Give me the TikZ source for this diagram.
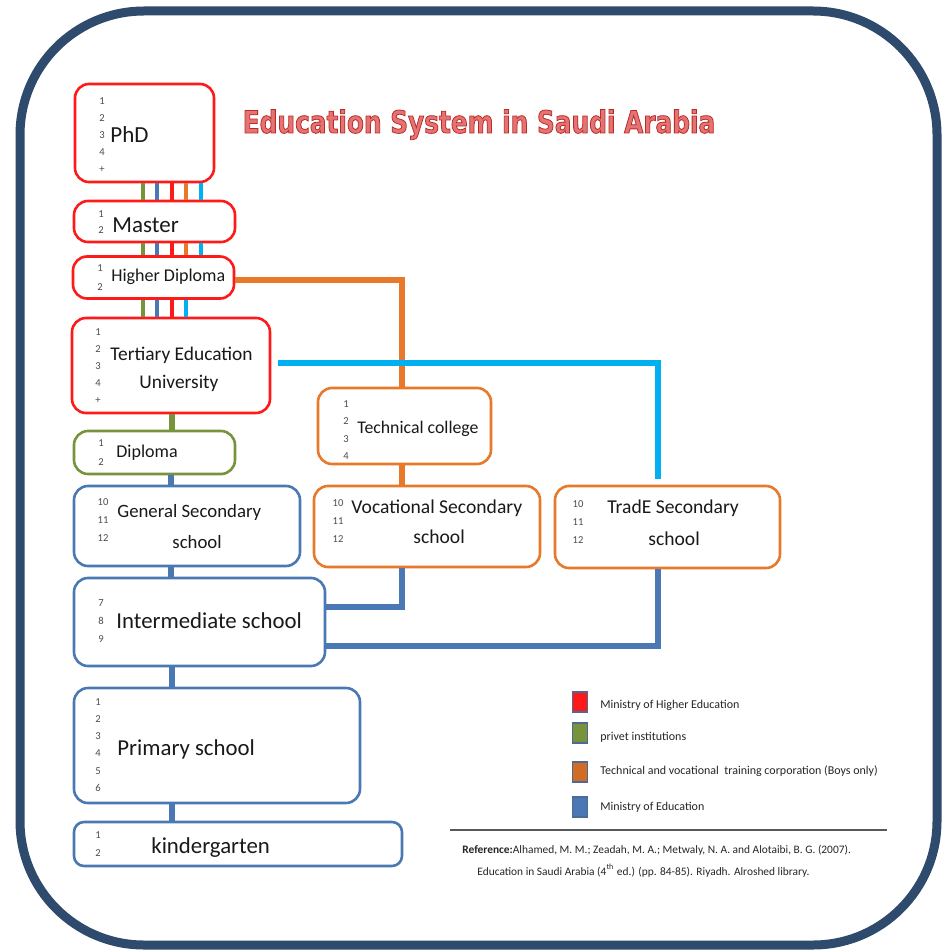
\documentclass[tikz,border=0pt]{standalone}
\usepackage{fontspec}
\setmainfont{Carlito}
\newfontfamily\headfont{DejaVu Sans}[FakeStretch=0.8, BoldFeatures={FakeBold=2.5}]
\usetikzlibrary{calc}

\definecolor{frameblue}{HTML}{2E4A6D}
\definecolor{mhe}{HTML}{FF1A1A}
\definecolor{priv}{HTML}{77933C}
\definecolor{tvtc}{HTML}{E8782A}
\definecolor{moe}{HTML}{4A78B4}
\definecolor{sky}{HTML}{00B0F0}
\definecolor{legendedge}{HTML}{4D6A94}

% heading letters: light red fill, darker red stroke
\newcommand{\headcolours}[1]{\special{pdf:bcolor [0.90 0.45 0.45] [0.72 0.17 0.15]}#1\special{pdf:ecolor}}

\tikzset{
  stage/.style={draw, line width=1.3pt, fill=white, rounded corners=7pt, inner sep=0pt},
  caption/.style={inner sep=0pt, anchor=base west, text=black!90},
  grades/.style={inner sep=0pt, align=center, text=black!70},
  bar/.style={line width=2.2pt},
  link/.style={line width=2.6pt},
  key/.style={draw=legendedge, line width=0.9pt, minimum width=7.5pt, minimum height=10pt, inner sep=0pt},
  keytext/.style={inner sep=0pt, anchor=west, font=\fontsize{6}{7}\selectfont, text=black!85},
  big/.style={font=\fontsize{11.4}{13}\selectfont},
}

\begin{document}
\begin{tikzpicture}[x=0.5pt,y=-0.5pt]
\useasboundingbox (0,0) rectangle (945,952);

% outer frame
\draw[frameblue, line width=4.5pt, rounded corners=62pt, fill=white] (20,11) rectangle (937,945);

% title
\node[inner sep=0pt, anchor=base] (title) at (479,133)
  {\headfont\bfseries\fontsize{15.5}{18}\selectfont\headcolours{Education System in Saudi Arabia}};

% stages
\node[stage, draw=mhe, minimum width=69.5pt, minimum height=49pt] (phd) at (144.5,133) {};
\node[stage, draw=mhe, minimum width=80.5pt, minimum height=20.5pt] (master) at (154.5,221.5) {};
\node[stage, draw=mhe, minimum width=80.5pt, minimum height=21pt] (hdip) at (153.5,277.5) {};
\node[stage, draw=mhe, minimum width=99pt, minimum height=47.5pt] (tert) at (171,365.5) {};
\node[stage, draw=priv, minimum width=80.5pt, minimum height=21.5pt] (dip) at (154.5,452.5) {};
\node[stage, draw=moe, minimum width=113pt, minimum height=40pt] (gen) at (187,526) {};
\node[stage, draw=moe, minimum width=125.5pt, minimum height=44pt] (inter) at (199.5,622) {};
\node[stage, draw=moe, minimum width=143pt, minimum height=57.5pt] (prim) at (217,745.5) {};
\node[stage, draw=moe, minimum width=164pt, minimum height=22pt, rounded corners=5pt] (kind) at (238,844) {};
\node[stage, draw=tvtc, minimum width=86.5pt, minimum height=38pt] (tech) at (404.5,426) {};
\node[stage, draw=tvtc, minimum width=113pt, minimum height=40.5pt] (voc) at (427,526.5) {};
\node[stage, draw=tvtc, minimum width=112.5pt, minimum height=41pt] (trade) at (667.5,527) {};

% stage names
\node[caption, font=\fontsize{11.5}{13}\selectfont] (phdT) at (110,143) {PhD};
\node[caption, font=\fontsize{11.5}{13}\selectfont] (masterT) at (112,233) {Master};
\node[caption, font=\fontsize{9}{11}\selectfont] (hdipT) at (111,281) {Higher Diploma};
\node[caption, font=\fontsize{9.7}{11}\selectfont] (tertT) at (110,360) {Tertiary Education};
\node[caption, font=\fontsize{9.7}{11}\selectfont] (tertU) at (139,388) {University};
\node[caption, font=\fontsize{9}{11}\selectfont] (dipT) at (116,457) {Diploma};
\node[caption, font=\fontsize{9.4}{11}\selectfont] (genT) at (117,517) {General Secondary};
\node[caption, font=\fontsize{9.4}{11}\selectfont] (genS) at (172,548) {school};
\node[caption, big] (interT) at (116,628) {Intermediate school};
\node[caption, big] (primT) at (117,755) {Primary school};
\node[caption, big] (kindT) at (151,853) {kindergarten};
\node[caption, font=\fontsize{8.9}{11}\selectfont] (techT) at (357,433) {Technical college};
\node[caption, font=\fontsize{9.8}{11}\selectfont] (vocT) at (351,513) {Vocational Secondary};
\node[caption, font=\fontsize{9.8}{11}\selectfont] (vocS) at (413,543) {school};
\node[caption, font=\fontsize{9.8}{11}\selectfont] (tradeT) at (607,513) {TradE Secondary};
\node[caption, font=\fontsize{9.8}{11}\selectfont] (tradeS) at (648,545) {school};

% year columns
\node[grades, font=\fontsize{5.3}{8.5}\selectfont] (phdN) at (102,135) {1\\2\\3\\4\\+};
\node[grades, font=\fontsize{5.3}{8}\selectfont] (masterN) at (101,222) {1\\2};
\node[grades, font=\fontsize{5.3}{9.5}\selectfont] (hdipN) at (100,278) {1\\2};
\node[grades, font=\fontsize{5.3}{8.5}\selectfont] (tertN) at (98,366) {1\\2\\3\\4\\+};
\node[grades, font=\fontsize{5.3}{9.5}\selectfont] (dipN) at (101,453) {1\\2};
\node[grades, font=\fontsize{5.3}{9}\selectfont] (genN) at (103,520) {10\\11\\12};
\node[grades, font=\fontsize{5.3}{9}\selectfont] (interN) at (101,621) {7\\8\\9};
\node[grades, font=\fontsize{5.3}{8.6}\selectfont] (primN) at (98,745) {1\\2\\3\\4\\5\\6};
\node[grades, font=\fontsize{5.3}{9}\selectfont] (kindN) at (98,844) {1\\2};
\node[grades, font=\fontsize{5.3}{8.8}\selectfont] (techN) at (346,430) {1\\2\\3\\4};
\node[grades, font=\fontsize{5.3}{9}\selectfont] (vocN) at (338,521) {10\\11\\12};
\node[grades, font=\fontsize{5.3}{9}\selectfont] (tradeN) at (578,522) {10\\11\\12};

% pathways between the higher-education stages
\foreach \px/\c in {143/priv,157/moe,172/mhe,186/tvtc,201/sky}{
  \draw[bar, \c] (\px,0 |- phd.south) -- (\px,0 |- master.north);
  \draw[bar, \c] (\px,0 |- master.south) -- (\px,0 |- hdip.north);
}
\foreach \px/\c in {143/priv,157/moe,172/mhe,186/sky}{
  \draw[bar, \c] (\px,0 |- hdip.south) -- (\px,0 |- tert.north);
}

% school ladder
\draw[link, priv] (172,0 |- tert.south) -- (172,0 |- dip.north);
\draw[link, moe] (171,0 |- dip.south) -- (171,0 |- gen.north);
\draw[link, moe] (171,0 |- gen.south) -- (171,0 |- inter.north);
\draw[link, moe] (172,0 |- inter.south) -- (172,0 |- prim.north);
\draw[link, moe] (172,0 |- prim.south) -- (172,0 |- kind.north);

% technical and vocational branches
\draw[link, tvtc, line width=3pt] (hdip.east |- 0,280) -| (402,0 |- tech.north);
\draw[link, sky] ([xshift=3.5pt]tert.east |- 0,363) -| ([yshift=3pt]658,0 |- trade.north);
\draw[link, tvtc] (402,0 |- tech.south) -- (402,0 |- voc.north);
\draw[link, moe] (402,0 |- voc.south) |- (inter.east |- 0,607);
\draw[link, moe] (658,0 |- trade.south) |- (inter.east |- 0,646);

% legend
\node[key, fill=mhe] (k1) at (580,702) {};
\node[key, fill=priv] (k2) at (580,733) {};
\node[key, fill=tvtc!90!black] (k3) at (580,772) {};
\node[key, fill=moe] (k4) at (580,807) {};
\node[keytext] (k1t) at (600,705) {Ministry of Higher Education};
\node[keytext] (k2t) at (600,737) {privet institutions};
\node[keytext] (k3t) at (600,771) {Technical and vocational\ \ training corporation (Boys only)};
\node[keytext] (k4t) at (600,807) {Ministry of Education};

% reference
\draw[black!65, line width=1pt] (450,830) -- (887,830);
\node[inner sep=0pt, anchor=base west, font=\fontsize{5.7}{7}\selectfont, text=black!85] (ref1) at (462,853)
  {\textbf{Reference:}Alhamed, M. M.; Zeadah, M. A.; Metwaly, N. A. and Alotaibi, B. G. (2007).};
\node[inner sep=0pt, anchor=base west, font=\fontsize{5.7}{7}\selectfont, text=black!85] (ref2) at (477,875)
  {Education in Saudi Arabia (4\textsuperscript{th} ed.) (pp. 84-85). Riyadh. Alroshed library.};
\end{tikzpicture}
\end{document}
